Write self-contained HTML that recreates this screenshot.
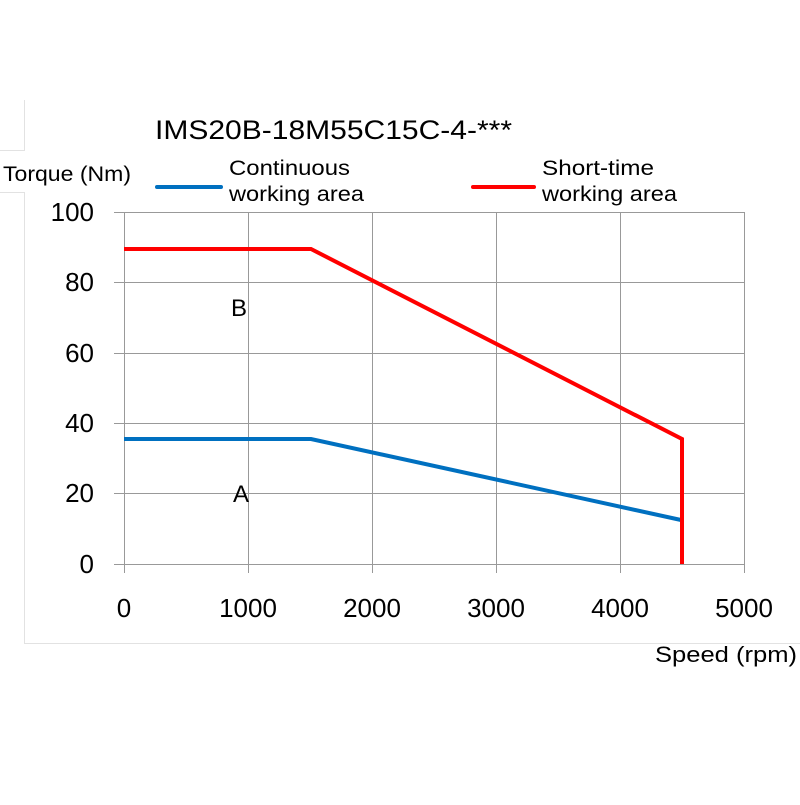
<!DOCTYPE html>
<html><head><style>body{margin:0;background:#fff}</style></head><body>
<svg width="800" height="800" xmlns="http://www.w3.org/2000/svg" font-family="Liberation Sans, DejaVu Sans, sans-serif">
<g stroke="#e2e2e2" stroke-width="1" fill="none">
<path d="M24.5 100V150.5H0"/><path d="M0 192.5H24.5V643.5H800"/>
</g>
<g stroke="#999" stroke-width="1">
<path d="M114 212.5H744M114 282.5H744M114 353.5H744M114 423.5H744M114 493.5H744M114 564.5H744"/>
<path d="M124.5 212V573M248.5 212V573M372.5 212V573M496.5 212V573M620.5 212V573M744.5 212V573"/>
</g>
<g font-size="26" fill="#000" text-anchor="end">
<text x="94" y="221">100</text><text x="94" y="291">80</text><text x="94" y="362">60</text>
<text x="94" y="432">40</text><text x="94" y="502">20</text><text x="94" y="573">0</text>
</g>
<g font-size="26" fill="#000" text-anchor="middle">
<text x="124" y="617">0</text><text x="248" y="617">1000</text><text x="372" y="617">2000</text>
<text x="496" y="617">3000</text><text x="620" y="617">4000</text><text x="744" y="617">5000</text>
</g>
<text x="155" y="139" font-size="27" textLength="357" lengthAdjust="spacingAndGlyphs">IMS20B-18M55C15C-4-***</text>
<text x="3" y="181" font-size="21" textLength="128" lengthAdjust="spacingAndGlyphs">Torque (Nm)</text>
<text x="655" y="662" font-size="22" textLength="142" lengthAdjust="spacingAndGlyphs">Speed (rpm)</text>
<text x="229" y="175" font-size="21" textLength="121" lengthAdjust="spacingAndGlyphs">Continuous</text>
<text x="229" y="201" font-size="21" textLength="135" lengthAdjust="spacingAndGlyphs">working area</text>
<text x="542" y="175" font-size="21" textLength="112" lengthAdjust="spacingAndGlyphs">Short-time</text>
<text x="542" y="201" font-size="21" textLength="135" lengthAdjust="spacingAndGlyphs">working area</text>
<line x1="157" y1="187" x2="221" y2="187" stroke="#0070c0" stroke-width="4" stroke-linecap="round"/>
<line x1="473" y1="187" x2="534" y2="187" stroke="#ff0000" stroke-width="4" stroke-linecap="round"/>
<text x="231" y="316" font-size="24">B</text>
<text x="233" y="502" font-size="24">A</text>
<polyline points="124,439 311,439 681,520" fill="none" stroke="#0070c0" stroke-width="4"/>
<polyline points="124,249 311,249 682,439 682,564" fill="none" stroke="#ff0000" stroke-width="4"/>
</svg>
</body></html>
